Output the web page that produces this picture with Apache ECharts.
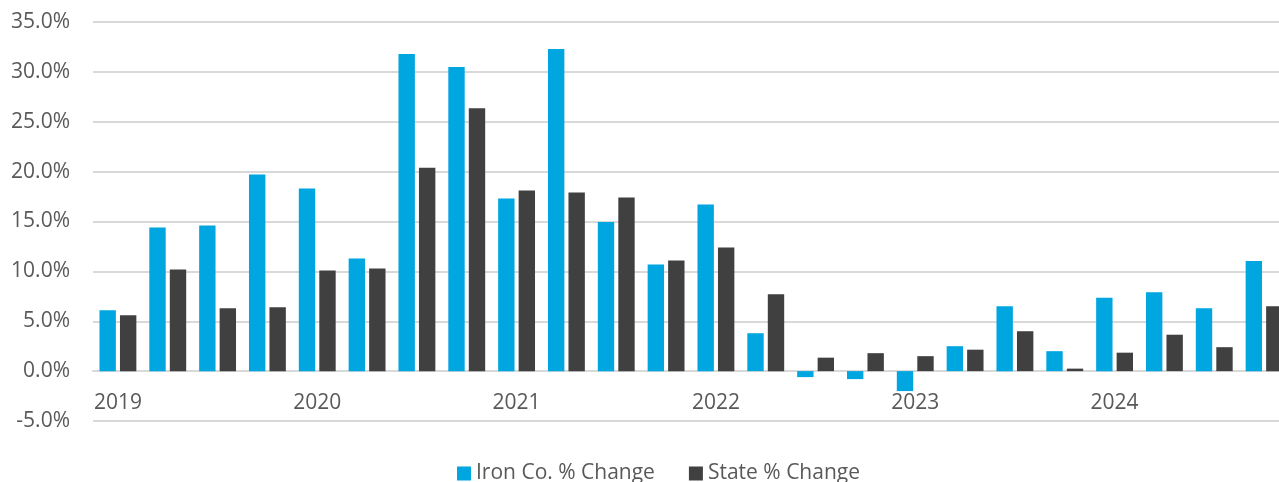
<!DOCTYPE html>
<html>
<head>
<meta charset="utf-8">
<title>Iron Co. vs State % Change</title>
<script src="https://cdn.jsdelivr.net/npm/echarts@6/dist/echarts.min.js"></script>
<style>
  html, body { margin: 0; padding: 0; background: #fff; overflow: hidden; }
  #chart { width: 1289px; height: 482px; }
</style>
</head>
<body>
<div id="chart"></div>
<script>
// quarterly, 2019 Q1 .. 2024 Q4
const quarters = [
  "2019 Q1", "2019 Q2", "2019 Q3", "2019 Q4",
  "2020 Q1", "2020 Q2", "2020 Q3", "2020 Q4",
  "2021 Q1", "2021 Q2", "2021 Q3", "2021 Q4",
  "2022 Q1", "2022 Q2", "2022 Q3", "2022 Q4",
  "2023 Q1", "2023 Q2", "2023 Q3", "2023 Q4",
  "2024 Q1", "2024 Q2", "2024 Q3", "2024 Q4"
];
const ironCo = [
  6.1, 14.4, 14.6, 19.7,
  18.3, 11.3, 31.8, 30.5,
  17.3, 32.3, 14.95, 10.7,
  16.7, 3.8, -0.6, -0.8,
  -2.0, 2.5, 6.5, 2.0,
  7.35, 7.9, 6.3, 11.05
];
const state = [
  5.6, 10.2, 6.3, 6.4,
  10.1, 10.3, 20.4, 26.35,
  18.1, 17.9, 17.4, 11.1,
  12.4, 7.7, 1.35, 1.8,
  1.5, 2.15, 4.0, 0.25,
  1.85, 3.65, 2.4, 6.5
];
const yTicks = { min: -5, max: 35, step: 5 };

const textColor = "#595959";
const font = "'Open Sans', sans-serif";

const chart = echarts.init(document.getElementById("chart"));

const option = {
  animation: false,
  textStyle: { fontFamily: font },
  grid: { left: 93, right: 0, top: 22, bottom: 61 },
  legend: {
    left: 452,
    top: 458,
    itemWidth: 14,
    itemHeight: 14,
    itemGap: 34,
    icon: "rect",
    textStyle: { color: textColor, fontSize: 21, fontFamily: font }
  },
  xAxis: {
    type: "category",
    data: quarters,
    // sit the axis on the 0% line (one 5% step above the bottom)
    offset: -50,
    axisTick: { show: false },
    axisLine: { onZero: false, lineStyle: { color: "#d9d9d9", width: 2 } },
    axisLabel: {
      interval: 3,
      margin: 22,
      color: textColor,
      fontSize: 21,
      fontFamily: font,
      formatter: (v) => v.split(" ")[0]
    }
  },
  yAxis: {
    type: "value",
    min: yTicks.min,
    max: yTicks.max,
    interval: yTicks.step,
    axisLabel: {
      margin: 23,
      color: textColor,
      fontSize: 21,
      fontFamily: font,
      formatter: (v) => v.toFixed(1) + "%"
    },
    splitLine: { lineStyle: { color: "#d9d9d9", width: 2 } }
  },
  series: [
    {
      name: "Iron Co. % Change",
      type: "bar",
      data: ironCo,
      barGap: "25%",
      barCategoryGap: "26%",
      itemStyle: { color: "#00a6e0" }
    },
    {
      name: "State % Change",
      type: "bar",
      data: state,
      itemStyle: { color: "#404040" }
    }
  ]
};

chart.setOption(option);
</script>
</body>
</html>
